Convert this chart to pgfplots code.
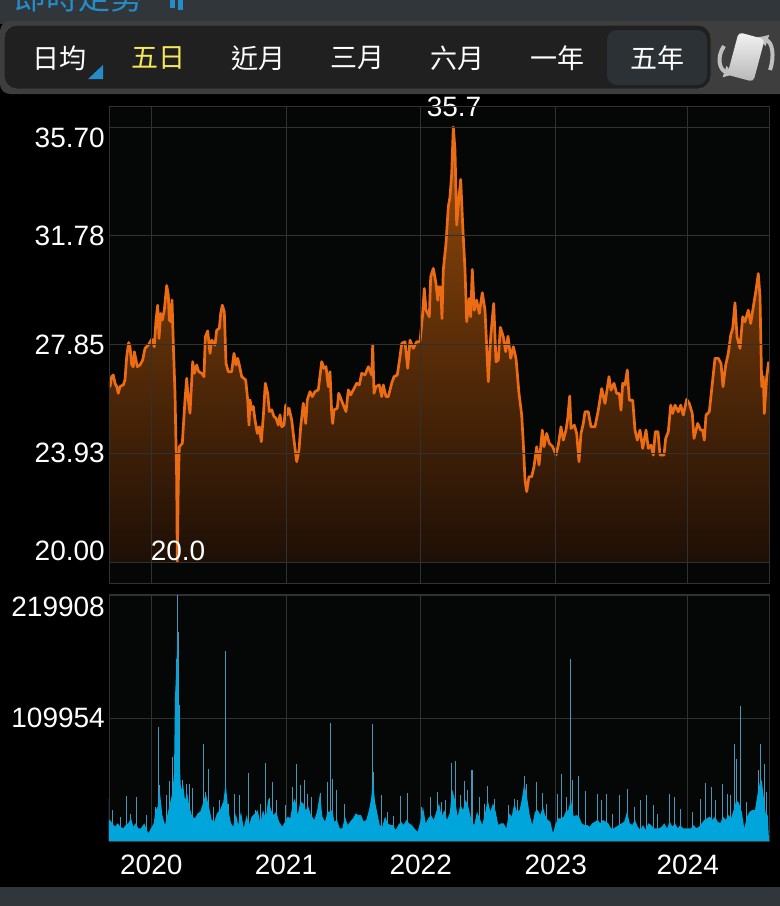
\documentclass[border=0pt]{standalone}
\usepackage{fontspec}
\usepackage{pgfplots}
\usepackage{pgfplotstable}
\pgfplotsset{compat=1.18}
\usetikzlibrary{arrows.meta}
\setmainfont{Liberation Sans}
\newfontfamily\cjk{Noto Sans CJK TC}

\definecolor{barbg}{RGB}{48,54,58}
\definecolor{stripbg}{RGB}{62,62,62}
\definecolor{tabsbg}{RGB}{32,32,32}
\definecolor{tabsel}{RGB}{43,49,53}
\definecolor{panelbg}{RGB}{5,6,6}
\definecolor{gridc}{RGB}{48,50,50}
\definecolor{priceline}{RGB}{235,108,18}
\definecolor{filltop}{RGB}{150,75,10}
\definecolor{fillbot}{RGB}{30,15,6}
\definecolor{volfill}{RGB}{0,165,220}
\definecolor{volspike}{RGB}{70,150,185}
\definecolor{linkblue}{RGB}{38,140,200}
\definecolor{tabyellow}{RGB}{245,232,90}

% x is the position along the strip, 0 = left edge, 660 = right edge
\pgfplotstableread{
x v
0 26.51
1 26.33
2.7 26.69
4.3 26.75
6 26.45
7.7 26.33
9.3 26.09
11 26.33
14.3 26.39
16 26.57
17.7 27.41
19.7 27.92
21 27.77
22.7 27.11
24.3 27.05
25.3 27.59
27 27.29
28.3 27.05
31 27.11
33.7 27.29
36 27.71
39.3 27.83
42.7 28.04
45.3 27.77
47 28.73
48.7 29.27
50 28.07
51.7 28.97
53.3 28.73
55.3 29.09
57.7 29.98
59.3 29.64
60.3 28.73
62 28.67
63 29.46
64.3 27.89
66 26.09
67.7 22.96
68.3 20.01
69.3 22.84
70.3 24.16
73.3 24.28
76 25.85
77.7 26.63
79.3 25.85
81 25.37
83.7 27.23
85.3 26.81
87.7 27.11
89.7 26.87
92.7 26.81
95 26.69
96.3 28.13
98.7 28.34
101 27.53
102.7 28.01
106 27.83
107.7 28.37
110.3 28.43
111.7 28.97
113.3 29.27
115.3 29.03
117 27.17
119.3 26.87
122.7 26.87
125 27.53
127 27.11
128.7 27.35
130.3 27.11
132.7 26.69
136.7 26.57
138.7 25.85
140 24.94
141 25.85
142.7 25.49
144.3 25.61
146 25.13
148.3 24.64
150.3 24.88
152.3 24.34
154.3 25.25
156.3 26.45
158.7 26.09
160.3 25.43
162.7 25.49
165 25.25
167 25.19
169.3 24.94
171 25.31
172.7 24.88
175 24.94
176.7 25.67
178.3 25.31
180 25.55
182.7 25.13
185 24.40
187.7 23.62
190 24.04
191.7 24.88
194.3 25.73
196.7 25.00
198.3 25.85
201 26.15
203.3 25.97
206 26.15
209.3 26.21
212.7 27.23
215 26.99
217 27.05
219.3 26.33
221 26.87
222.7 25.37
223.7 25.00
225 25.49
228.3 25.55
229.7 26.09
231.7 25.91
234.3 25.67
237 25.43
239.3 26.21
241.7 26.03
244.3 26.21
247.7 26.45
250.3 26.39
252.7 26.81
256 26.75
259.3 27.05
262.7 26.75
263.7 27.83
265 26.09
267 26.33
270.3 26.39
272.7 25.97
274.3 26.39
277 25.97
279.3 25.97
282.7 26.45
285 26.69
288.3 26.75
291 27.41
292.7 27.89
296 27.95
298.7 26.99
301 28.01
304.3 27.71
307.7 27.95
311 27.95
313.7 28.97
315.3 29.87
317 29.09
320.3 28.85
321.7 30.29
324.3 30.60
327 30.05
328.7 29.45
329.3 29.93
331.7 29.93
333 28.79
334.3 30.54
337 31.50
339.3 32.82
341 33.18
342.7 34.02
344.3 35.70
346 34.87
347.7 32.16
349.7 33.06
351.7 33.81
353.7 32.16
356 30.54
357.7 28.67
360.3 29.51
361.7 28.85
363.3 30.56
365.3 29.09
367.7 29.45
370.3 28.97
373.3 29.72
376 29.09
379.3 26.51
381.7 28.13
384.7 29.33
387 27.23
389.3 27.29
391.3 28.47
394.3 28.13
396.7 27.59
399 28.15
401.7 27.35
404.3 27.77
407 27.35
410 26.08
412.7 25.30
414.3 24.28
416 22.96
417.7 22.54
420 23.08
422.7 23.08
425 23.44
427.7 24.16
430 23.50
433.3 24.76
435 24.16
437.7 24.64
440.3 24.28
443.7 24.16
447 23.86
449.3 24.22
452 24.88
454.3 24.40
457 24.76
458.7 25.18
460.7 25.99
462 24.82
465.3 24.94
467.7 24.64
470 23.62
472 24.64
474.3 25.00
476 25.42
479.3 25.42
482 24.88
486 24.88
489.3 25.48
492.7 26.26
496 25.72
500 26.69
502 26.20
505 26.45
507.7 26.08
510.3 26.08
512 25.48
513.7 26.45
516 26.39
518.3 26.93
520.3 25.84
523.7 25.84
526 24.76
528.3 24.40
531 24.76
533.7 24.10
537 24.76
539.3 24.10
542 24.22
544.3 23.86
546.3 24.70
549 24.70
551 23.86
555 23.86
556.7 24.46
559.3 24.70
561.7 25.66
563.7 25.36
566 25.66
569.3 25.42
571.7 25.66
574.3 25.30
577.7 25.87
580.3 25.72
583.3 25.36
585 24.46
588.7 25.00
591.7 24.76
593.7 24.76
595.3 24.40
597 25.30
600.3 25.42
603.7 26.57
606 27.35
609.3 27.35
612 27.17
614 26.33
616.7 27.11
619.3 27.53
621.7 28.19
623.7 28.43
626 29.36
628 28.13
631 27.71
633.7 28.85
636 28.67
639.3 29.09
641.7 28.61
644.3 29.21
647 29.81
649.3 30.41
651 29.57
652.7 26.33
654.3 26.69
655.3 25.36
657.7 26.69
659.7 27.23
}\pricetab

\pgfplotstableread{
x v
0 18800
1 18800
3.3 15800
6 12800
8.7 15800
11.3 12800
14.3 11300
16.7 14300
19.3 15800
22 20300
24.3 12800
26.7 15800
29.3 11300
32 11300
35.3 15800
39.3 6900
42 11300
44.7 15800
46.7 27700
48.7 30700
50.7 45600
53.3 23200
56 14300
58.7 24700
61 33700
63.3 42600
65 60500
66 128700
67.7 163000
68.7 186800
69.7 121300
70.7 69100
72 45600
74 51600
76 36700
78.3 42600
80.3 30700
83.3 21800
86 20300
88.7 24700
91.3 26200
94 33700
96.7 42600
100 30700
102.7 18800
105.3 17300
108 24700
111 27700
114.3 35200
116.7 51600
119.3 27700
122 15800
124.3 12800
126.7 24700
129.3 14300
132 26200
134.7 11300
137.7 23200
140 14300
142.7 21800
146 24700
148.7 27700
151.3 15800
154 27700
156.7 20300
159.3 38100
162 27700
164.7 23200
167.3 26200
170 17300
173.3 12800
176 17300
178.7 21800
181.3 20300
183.7 33700
186 38100
188.7 23200
191.3 35200
194.3 33700
196.7 27700
199.3 30700
202 23200
205.3 18800
208 26200
211 42600
213.3 21800
216 17300
218.7 26200
221.3 26200
223.3 27700
225.3 17300
228 18800
230.7 11300
233.3 11300
236 21800
238.7 14300
241.3 17300
244 20300
246.7 24700
249.3 23200
252 23200
254.7 17300
257.3 18800
260 27700
262 36700
264 54500
266 35200
268 26200
270.7 14300
273.3 12800
276 21800
278.7 15800
281.3 14300
284 14300
286.7 9800
289.3 14300
292 17300
294.7 14300
297.3 18800
300 15800
302.7 14300
305.3 11300
308.7 8300
311.3 17300
314 30700
316.7 15800
319.3 20300
322 23200
324.7 18800
327.3 26200
330 33700
332.7 21800
335.3 27700
338 18800
340.7 24700
343.3 45600
346 36700
348.7 21800
351.3 32200
354 27700
356.7 36700
359.3 30700
362.7 17300
365.3 14300
368 26200
370.7 20300
373.3 14300
376 24700
378.7 36700
381.3 26200
384 33700
386.7 26200
389.3 14300
392 15800
394.7 15800
397.3 11300
400 24700
402.7 21800
405.3 33700
408 26200
410.7 27700
413.3 39600
415.3 51600
418 39600
420.7 23200
423.3 14300
426 26200
428.7 27700
431.3 23200
434 30700
436 23200
438.7 18800
441.3 17300
444 6900
446.7 15800
449.3 20300
452 20300
454.7 21800
456.7 26200
459.3 27700
462 36700
464.7 21800
467.3 23200
470 21800
472.7 15800
475.3 14300
478 14300
480.7 12800
483.3 15800
486 17300
488.7 18800
491.3 15800
494 18800
496.7 17300
499.3 15800
502 11300
504.7 11300
507.3 12800
510 14300
512.7 15800
515.3 17300
518 26200
520.7 15800
523.3 14300
526 18800
528.7 12800
531.3 9800
534 14300
536.7 9800
539.3 15800
542 14300
544.7 11300
547.3 11300
550 11300
552.7 12800
555.3 15800
558 11300
560.7 17300
563.3 12800
566 15800
568.7 11300
571.3 14300
574 11300
576.7 11300
579.3 11300
582 11300
584.7 14300
587.3 11300
590 12800
592.7 15800
595.3 18800
598 20300
600.7 21800
603.3 18800
606 21800
608.7 17300
611.3 15800
614 21800
616.7 18800
619.3 23200
622 20300
624.7 27700
627.3 36700
630 33700
632.7 26200
635.3 11300
638 21800
640.7 26200
643.3 27700
646 27700
648.7 42600
650.7 51600
652.7 54500
654.7 39600
656.7 24700
658.7 23200
660 900
}\volbase

\pgfplotstableread{
x v
0 38700
3.7 27400
11.7 21500
17.7 39900
21.7 24400
27.7 39300
37.7 22900
46.3 30400
49.3 101900
50.3 49800
57 40800
60.3 53600
63.7 75100
66.3 129300
67.3 163000
68.3 219908
69 186800
70 121300
73.3 54200
77 51300
80 51300
83.3 47700
94.3 87000
96.3 43800
99.7 64700
104.3 30400
110.3 36400
113.7 33400
116.3 85500
116.7 169900
119.3 33400
125.7 41700
130.3 40800
139.3 61100
146 27400
151.7 33400
156.7 69700
160 38700
163.7 52700
167 36400
176.7 31900
183.3 48300
187.7 68500
191 49800
195 54800
198.3 42300
202 39300
211.7 42900
218.3 52700
221.3 105800
223.3 55700
227.7 45300
235.7 32800
263.7 104300
264.3 61700
272 40800
278.3 25900
284.3 22000
291 39900
298.3 42900
312.7 30400
321 39300
328.7 43800
332.7 34900
336 36400
342.7 70000
346 71200
351 40800
355 53300
358.3 45300
362.3 63200
363.7 63200
370 39300
375.3 33400
378.7 49200
385.3 37800
399.7 31900
405 37800
408.7 36400
415 57800
417.7 51300
427 52700
433.7 42900
437.7 33400
448.7 42300
452.7 60200
457.3 39300
461.3 162400
463 54200
469.7 57800
476 44700
488.7 41700
492.7 36400
497 41700
503.7 24400
510.3 40800
518 46800
525.3 30400
531.7 36400
537.7 40800
544.7 31900
548.7 24400
560.3 42300
565.3 39300
571.7 28900
583.7 25900
591 37800
596 51900
602.3 48300
606.3 36400
613.7 50700
618.3 42300
621 40800
625.7 87000
627.7 73600
631.3 120400
637.7 34900
649.3 63200
651.7 87000
655 68500
657 43800
}\volspikes

\pgfplotsset{
  panel/.style={
    scale only axis, width=660pt,
    xmin=0, xmax=660,
    xtick={42.3,177,311.7,446.7,578.7},
    grid=both,
    grid style={gridc, line width=0.8pt},
    axis line style={gridc, line width=0.8pt},
    major tick length=0pt,
    axis background/.style={fill=panelbg},
    clip mode=individual,
    scaled y ticks=false,
    tick label style={font=\fontsize{28}{28}\selectfont, text=white},
    y tick label style={anchor=east, inner xsep=0pt, xshift=-4pt},
  },
}

\begin{document}
\begin{tikzpicture}[x=1pt,y=-1pt]
\useasboundingbox (0,0) rectangle (780,906);
\clip (0,0) rectangle (780,906);
\fill[black] (0,0) rectangle (780,906);

% app chrome above the chart
\fill[barbg] (0,0) rectangle (780,24);
\node[anchor=west, inner sep=0pt, text=linkblue, font=\cjk\fontsize{32}{32}\selectfont] at (14,-3) {即時走勢};
\fill[linkblue] (170,0) rectangle (175,8);
\fill[linkblue] (178,0) rectangle (183,10);
\fill[stripbg, rounded corners=10pt] (0,21) rectangle (800,94);
\fill[tabsbg, draw=black!75, line width=1pt, rounded corners=13pt] (4,25) rectangle (711,89);
\fill[tabsel, rounded corners=10pt] (607,30) rectangle (707,85);
\fill[linkblue] (88,79) -- (103,79) -- (103,65) -- cycle;
\begin{scope}[every node/.style={text=white, font=\cjk\fontsize{27}{27}\selectfont, inner sep=0pt}]
\node at (59,58) {日均};
\node[text=tabyellow] at (158,58) {五日};
\node at (258,58) {近月};
\node at (357,58) {三月};
\node at (457,58) {六月};
\node at (557,58) {一年};
\node at (657,58) {五年};
\end{scope}
% the rotate icon
\draw[line width=4pt, black!25, -{Latex[length=11pt,width=13pt]}] (724,46) .. controls (716,58) and (720,70) .. (735,75);
\draw[line width=4pt, black!25, -{Latex[length=11pt,width=13pt]}] (770,70) .. controls (775,55) and (772,42) .. (757,37);
\node[rotate=-15, minimum width=27pt, minimum height=44pt, inner sep=0pt, rounded corners=4pt,
  top color=white!95!black, bottom color=black!28] at (746,57) {};

% footer strip
\fill[barbg] (0,887) rectangle (780,906);

% price panel
\begin{axis}[panel,
  at={(109pt,-583pt)}, anchor=south west,
  height=477pt,
  ymin=19.24, ymax=36.46,
  ytick={20,23.93,27.85,31.78,35.70},
  yticklabels={\raisebox{11pt}[\height][\depth]{20.00},23.93,27.85,31.78,\raisebox{-11pt}[\height][\depth]{35.70}},
  xticklabels={},
  axis on top,
]
\addplot[draw=none, shade, top color=filltop, bottom color=fillbot] table[x=x,y=v] {\pricetab}
  -- (axis cs:660,20) -- (axis cs:0,20) -- cycle;
\addplot[priceline, line width=2.7pt, line join=round, no markers] table[x=x,y=v] {\pricetab};
\node[text=white, font=\fontsize{28}{28}\selectfont, inner sep=0pt] at (axis cs:345,36.42) {35.7};
\node[text=white, font=\fontsize{28}{28}\selectfont, inner sep=0pt] at (axis cs:69,20.4) {20.0};
\end{axis}

% volume panel
\begin{axis}[panel,
  at={(109pt,-841pt)}, anchor=south west,
  height=247pt,
  ymin=0, ymax=220800,
  ytick={109954,219908},
  yticklabels={109954,\raisebox{-12pt}[\height][\depth]{219908}},
  xticklabels={2020,2021,2022,2023,2024},
  x tick label style={yshift=-10pt},
]
\addplot[ycomb, volspike, line width=1pt, no markers] table[x=x,y=v] {\volspikes};
\addplot[draw=none, fill=volfill] table[x=x,y=v] {\volbase} \closedcycle;
\end{axis}
\end{tikzpicture}
\end{document}
